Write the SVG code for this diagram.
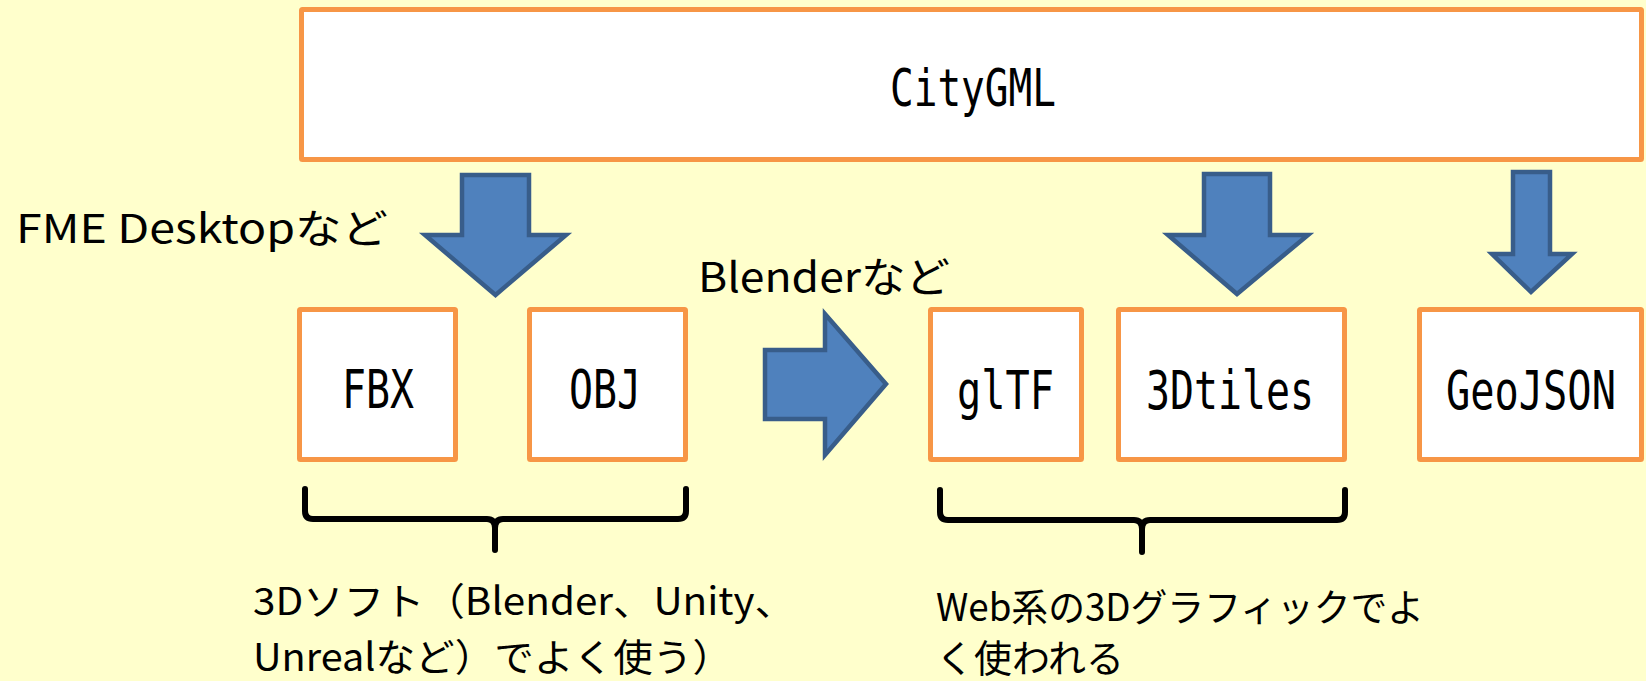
<svg xmlns="http://www.w3.org/2000/svg" width="1646" height="681" viewBox="0 0 1646 681">
<style>
.box{fill:#FFFFFF;stroke:#F79646;stroke-width:5}
.arrow{fill:#4F81BD;stroke:#385D8A;stroke-width:4.5;stroke-linejoin:miter}
.brace{fill:none;stroke:#000000;stroke-width:6;stroke-linecap:round;stroke-linejoin:round}
.mono{font-family:"DejaVu Sans Mono","Liberation Mono",monospace;fill:#000000}
.hand{font-family:"Noto Sans CJK JP","Noto Sans",sans-serif;fill:#000000;font-weight:400}
</style>
<rect x="0" y="0" width="1646" height="681" fill="#FFFFCC"/>
<g id="citygml">
<rect class="box" x="301.5" y="9.5" width="1340" height="150" rx="1"/>
<text class="mono" transform="translate(890,106) scale(0.7725,1)" x="0" y="0" font-size="51">CityGML</text>
</g>
<g id="fbx">
<rect class="box" x="299.5" y="309.5" width="156" height="150" rx="1"/>
<text class="mono" transform="translate(342,408) scale(0.752,1)" x="0" y="0" font-size="53">FBX</text>
</g>
<g id="obj">
<rect class="box" x="529.5" y="309.5" width="156" height="150" rx="1"/>
<text class="mono" transform="translate(569,408) scale(0.752,1)" x="0" y="0" font-size="53">OBJ</text>
</g>
<g id="gltf">
<rect class="box" x="930.5" y="309.5" width="151" height="150" rx="1"/>
<text class="mono" transform="translate(957,409) scale(0.76,1)" x="0" y="0" font-size="53">glTF</text>
</g>
<g id="tiles3d">
<rect class="box" x="1118.5" y="309.5" width="226" height="150" rx="1"/>
<text class="mono" transform="translate(1146,409) scale(0.752,1)" x="0" y="0" font-size="53">3Dtiles</text>
</g>
<g id="geojson">
<rect class="box" x="1419.5" y="309.5" width="222" height="150" rx="1"/>
<text class="mono" transform="translate(1446,409) scale(0.761,1)" x="0" y="0" font-size="53">GeoJSON</text>
</g>
<g id="connectors">
<polygon class="arrow" points="462,175 529,175 529,235 566,235 495.5,295 425,235 462,235"/>
<polygon class="arrow" points="1204,174 1270,174 1270,235 1308,235 1237,294 1168,235 1204,235"/>
<polygon class="arrow" points="1513,172 1550,172 1550,254 1572,254 1531,292 1492,254 1513,254"/>
<polygon class="arrow" points="765,350 825,350 825,314 886,384 825,455 825,419 765,419"/>
<path class="brace" d="M305,489 V511 Q305,519 313,519 H487 Q495,519 495,528 V550 M495,528 Q495,519 503,519 H678 Q686,519 686,511 V489"/>
<path class="brace" d="M940,490 V512 Q940,520 948,520 H1134 Q1142,520 1142,529 V552 M1142,529 Q1142,520 1150,520 H1337 Q1345,520 1345,512 V490"/>
</g>
<g id="labels">
<text class="hand" x="16" y="243" font-size="40" textLength="372" lengthAdjust="spacingAndGlyphs">FME Desktopなど</text>
<text class="hand" x="698" y="292" font-size="41" textLength="252" lengthAdjust="spacingAndGlyphs">Blenderなど</text>
<text class="hand" x="253" y="615" font-size="38" textLength="542" lengthAdjust="spacingAndGlyphs">3Dソフト（Blender、Unity、</text>
<text class="hand" x="253" y="671" font-size="38" textLength="479" lengthAdjust="spacingAndGlyphs">Unrealなど）でよく使う）</text>
<text class="hand" x="936" y="621" font-size="38" textLength="488" lengthAdjust="spacingAndGlyphs">Web系の3Dグラフィックでよ</text>
<text class="hand" x="936" y="672" font-size="38" textLength="188" lengthAdjust="spacingAndGlyphs">く使われる</text>
</g>
</svg>
